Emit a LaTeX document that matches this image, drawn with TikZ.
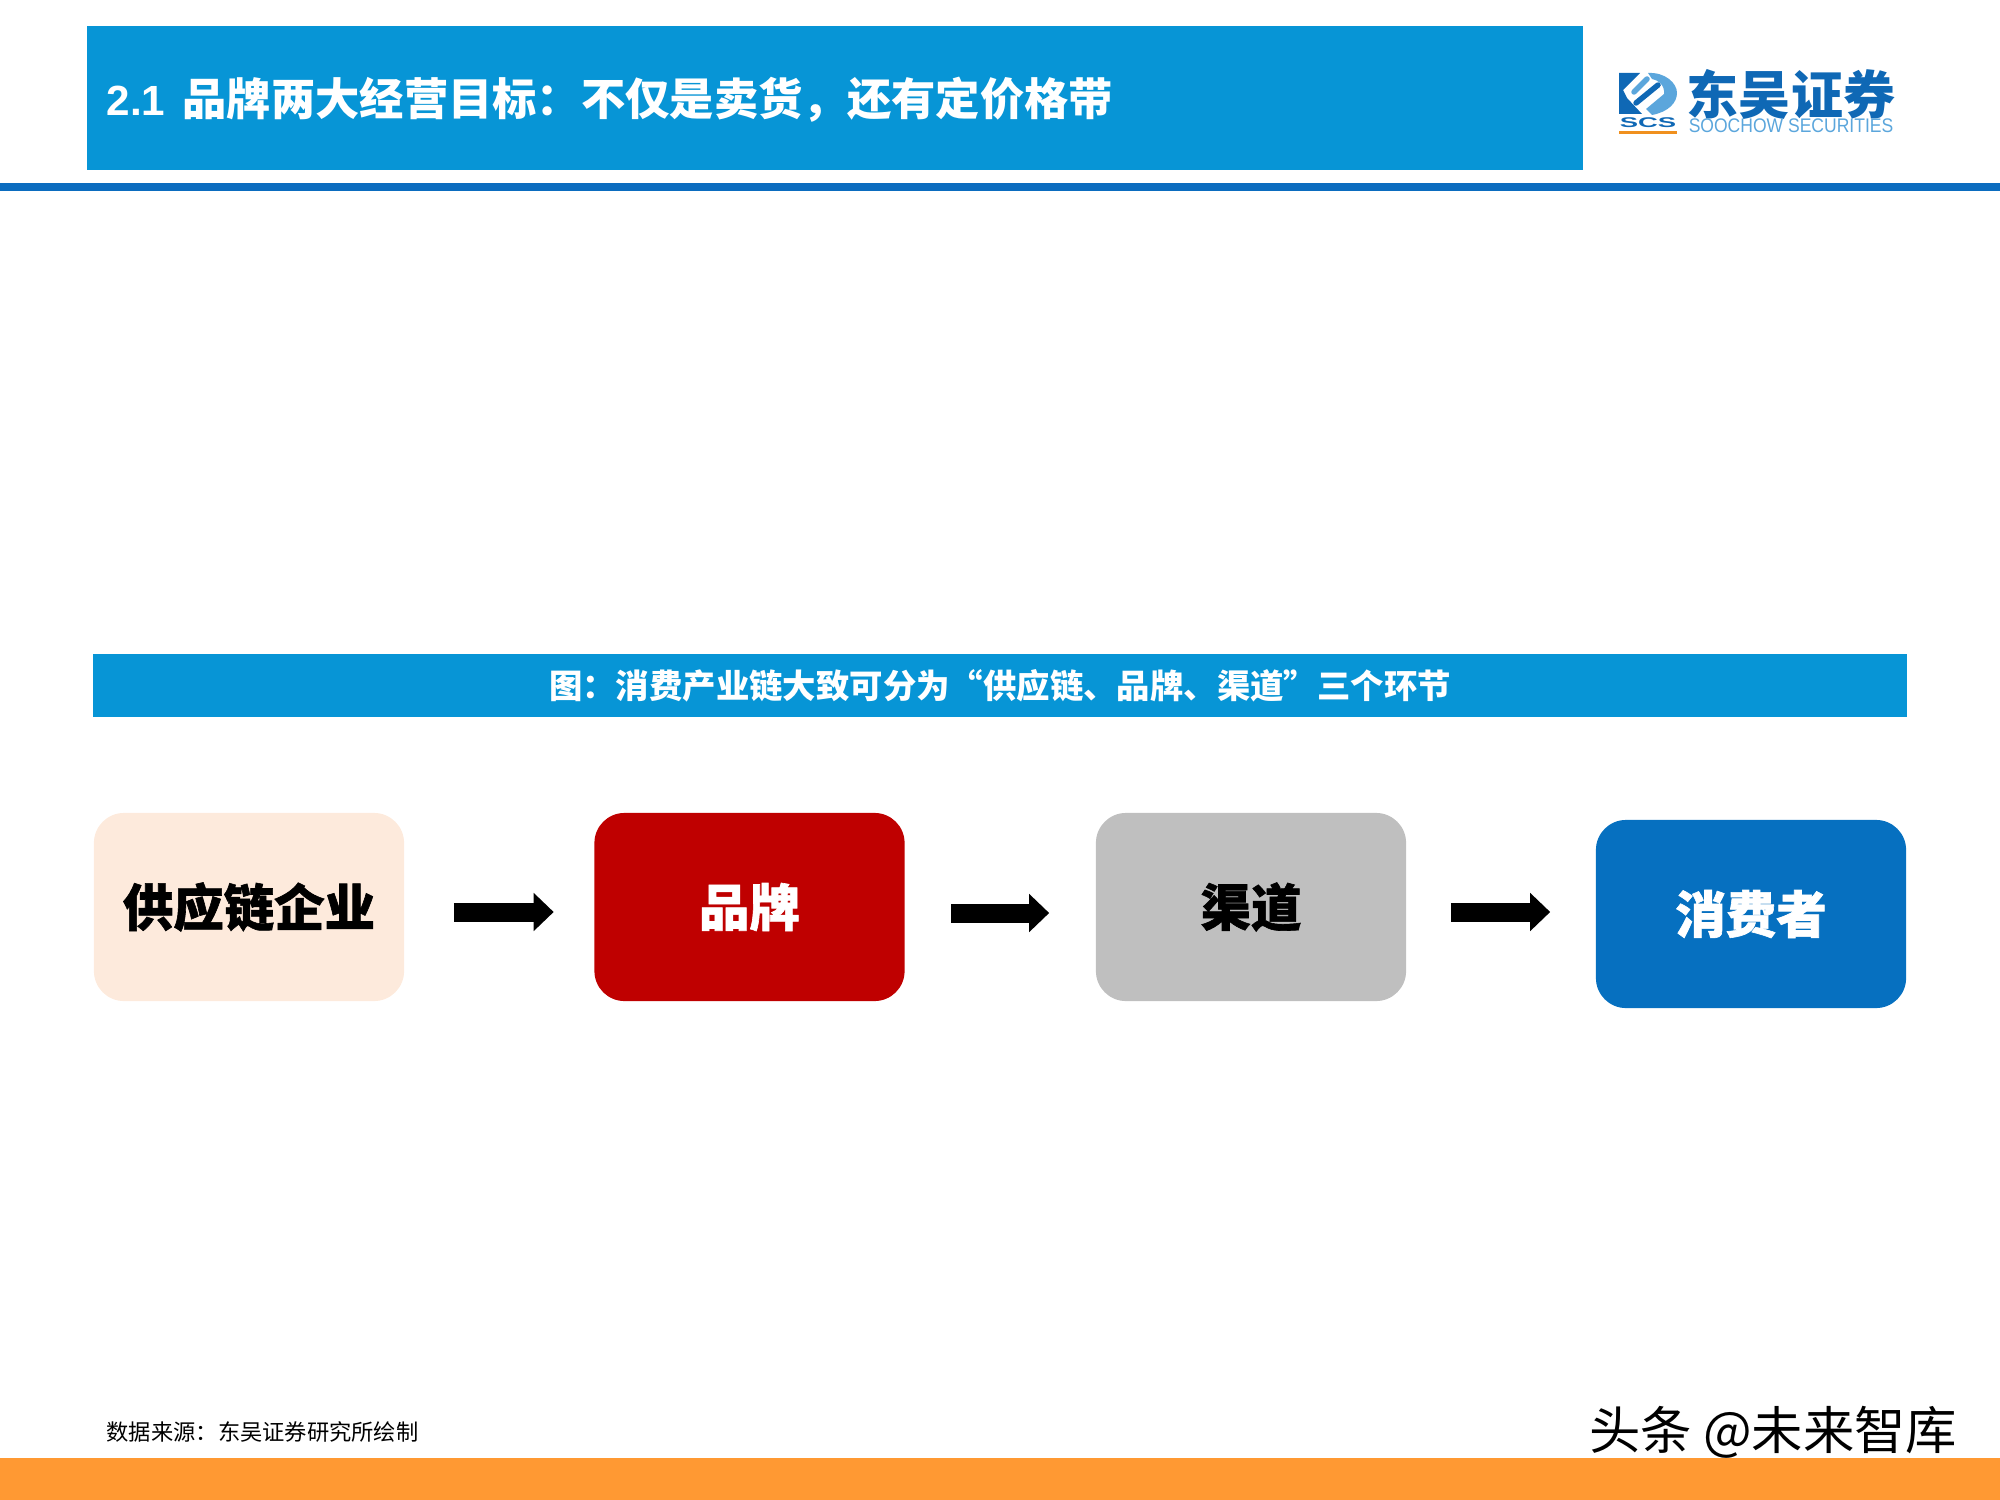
\documentclass[tikz,border=0pt]{standalone}
\usepackage{fontspec}
\usepackage{xcolor}
\usetikzlibrary{positioning}
\usetikzlibrary{arrows.meta}
\setmainfont{Liberation Sans}
\newfontfamily\cjk{Noto Sans CJK SC}
\newfontfamily\cjkheavy{Noto Sans CJK SC}[BoldFeatures={FakeBold=1.2}]
\definecolor{barblue}{HTML}{0795D6}
\definecolor{lineblue}{HTML}{0B6CBF}
\definecolor{logoblue}{HTML}{0F68B5}
\definecolor{logolight}{HTML}{5BA6DC}
\definecolor{logoorange}{HTML}{F0901E}
\definecolor{footorange}{HTML}{FF9933}
\definecolor{supplyfill}{HTML}{FDEADC}
\definecolor{brandfill}{HTML}{BF0000}
\definecolor{channelfill}{HTML}{BFBFBF}
\definecolor{buyerfill}{HTML}{0670C0}
\tikzset{
    chainbox/.style={rounded corners=.3cm, minimum width=3.1cm, minimum height=1.88cm, inner sep=0pt, font=\cjkheavy\fontsize{14.35}{16}\bfseries},
    flowarrow/.style={line width=.19cm, -{Triangle[length=.2cm, width=.37cm]}},
}
\begin{document}
\begin{tikzpicture}[x=.01cm, y=-.01cm]
    \useasboundingbox (0,0) rectangle (2000,1500);
    % header
    \fill[barblue] (87,26) rectangle (1583,170);
    \fill[lineblue] (0,183) rectangle (2000,191);
    \node[anchor=west, white, inner sep=0pt, font=\cjk\fontsize{12.6}{14}\bfseries] (title) at (106,100) {{\rmfamily\bfseries\fontsize{12}{14}\selectfont 2.1}\hspace{.07cm} 品牌两大经营目标：不仅是卖货，还有定价格带};
    % logo
    \fill[logoblue] (1619,73) -- (1640,73) -- (1623,90) -- (1627,98) -- (1642,114) -- (1619,114) -- cycle;
    \fill[logolight] (1648,73) .. controls (1665,72) and (1677,83) .. (1677,93) .. controls (1677,103) and (1668,112) .. (1652,115) -- (1646,109) -- (1664,94) .. controls (1665,85) and (1658,80) .. (1652,79) -- cycle;
    \draw[logoblue, line width=.055cm, line cap=round] (1636,103) -- (1658,85);
    \draw[logolight, line width=.055cm, line cap=round] (1634,92) -- (1647,79);
    \node[logoblue, inner sep=0pt, xscale=1.95, font=\fontsize{4}{5}\bfseries] (logoscs) at (1648,123) {SCS};
    \fill[logoorange] (1619,131) rectangle (1677,134);
    \node[logoblue, inner sep=0pt, font=\cjk\fontsize{14.8}{16}\bfseries] (logoname) at (1791,94) {东吴证券};
    \node[logolight, inner sep=0pt, xscale=.89, font=\fontsize{5.6}{7}\selectfont] (logoen) at (1791,126) {SOOCHOW SECURITIES};
    % caption
    \fill[barblue] (93,654) rectangle (1907,717);
    \node[white, inner sep=0pt, font=\cjk\fontsize{9.5}{11}\bfseries] (caption) at (1000,686) {图：消费产业链大致可分为“供应链、品牌、渠道”三个环节};
    % chain
    \node[chainbox, fill=supplyfill] (supply) at (249,907) {供应链企业};
    \node[chainbox, fill=brandfill, text=white] (brand) at (749.5,907) {品牌};
    \node[chainbox, fill=channelfill] (channel) at (1251,907) {渠道};
    \node[chainbox, fill=buyerfill, text=white] (buyer) at (1751,914) {消费者};
    \foreach \a/\b/\s/\p/\q in {supply/brand/.05/.49/.40, brand/channel/.06/.46/.46, channel/buyer/.05/.44/.45}
    {
        \draw[flowarrow, shorten <=\p cm, shorten >=\q cm] ([yshift=-\s cm]\a.east) -- ([yshift=-\s cm]\a.east -| \b.west);
    }
    % footer
    \fill[footorange] (0,1458) rectangle (2000,1500);
    \node[anchor=west, inner sep=0pt, font=\cjk\fontsize{6.33}{8}\selectfont] (source) at (106,1432) {数据来源：东吴证券研究所绘制};
    \node[anchor=east, inner sep=0pt, font=\cjk\fontsize{14.6}{16}\selectfont] (mark) at (1958,1432) {头条 @未来智库};
\end{tikzpicture}
\end{document}
